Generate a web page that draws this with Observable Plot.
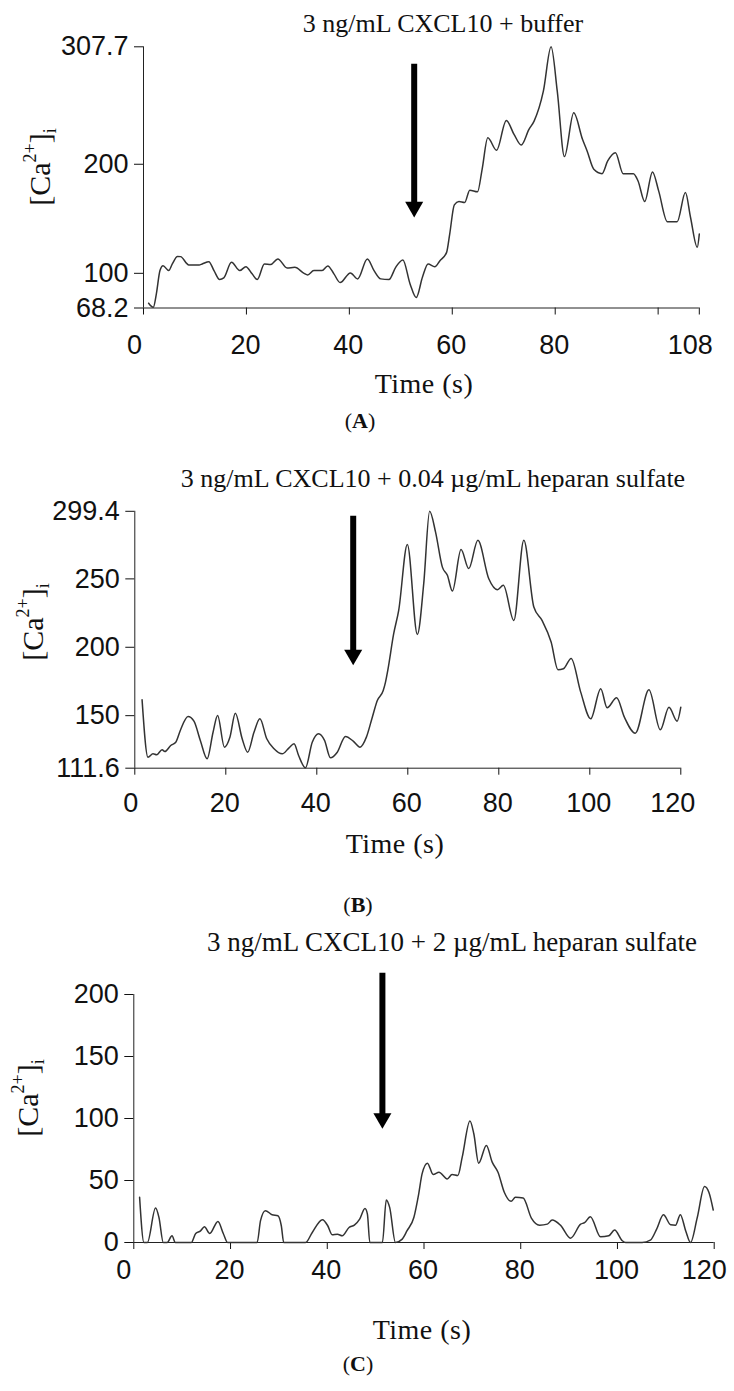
<!DOCTYPE html>
<html>
<head>
<meta charset="utf-8">
<script src="https://cdn.jsdelivr.net/npm/d3@7"></script>
<script src="https://cdn.jsdelivr.net/npm/@observablehq/plot@0.6"></script>
<style>
  body { margin: 0; background: #fff; }
  #fig { position: relative; width: 734px; height: 1391px; overflow: hidden;
         font-family: "Liberation Serif", "Times New Roman", serif; color: #111; }
  .t { position: absolute; white-space: nowrap; line-height: 1; transform: translateX(-50%); }
  .ylab { position: absolute; white-space: nowrap; line-height: 1; font-size: 30px;
          transform: translate(-50%, -50%) rotate(-90deg); }
  .ylab sup, .ylab sub { font-size: 0.6em; position: relative; vertical-align: baseline; line-height: 0; }
  .ylab sup { top: -0.8em; }
  .ylab sub { top: 0.35em; }
  svg { position: absolute; left: 0; }
</style>
</head>
<body>
<div id="fig"></div>
<script>
// Intracellular calcium traces, [Ca2+]i versus time (s)

// (A) 3 ng/mL CXCL10 + buffer
const timeA = [1.0,1.9,2.5,3.2,3.8,4.9,5.6,6.6,7.2,8.8,10.8,11.4,12.7,13.7,14.8,15.6,17.1,18.7,19.9,21.1,22.1,23.5,24.7,26.1,27.9,29.4,31.2,31.9,33.1,34.7,35.8,37.0,38.2,40.2,41.6,43.5,44.8,46.1,47.7,49.0,50.4,51.8,53.0,54.2,55.3,56.6,57.6,58.9,59.5,60.4,61.3,62.4,63.4,64.9,65.8,66.9,68.6,70.5,72.0,73.4,74.9,75.9,77.7,79.2,80.4,81.8,83.6,85.3,86.2,87.5,89.1,90.2,91.7,93.2,95.2,96.1,97.4,98.9,100.1,101.8,103.7,105.3,106.3,107.6,108];
const caA = [72.6,68.9,81.2,102.5,107.0,102.5,108.6,115.5,115.3,107.7,107.7,108.6,110.7,102.5,94.3,95.8,110.1,102.5,106.1,99.5,94.3,108.6,108.0,113.2,104.9,105.5,100.0,98.5,102.5,102.5,106.8,99.5,91.5,100.4,94.9,113.2,102.5,94.9,94.3,105.5,112.3,90.3,77.8,96.4,108.6,106.1,111.6,119.2,136.0,162.8,165.8,164.9,176.2,174.7,195.4,224.3,212.8,240.2,227.4,217.7,232.0,239.6,267.0,307.7,267.0,207.0,247.2,222.9,212.2,195.4,191.4,203.0,210.6,191.4,191.4,184.7,165.8,193.0,175.6,147.3,147.3,174.0,151.2,123.8,136.0];

// (B) 3 ng/mL CXCL10 + 0.04 µg/mL heparan sulfate
const timeB = [1.6,2.9,4.0,4.8,6.0,6.6,7.9,9.0,10.0,11.7,13.0,14.4,15.9,17.2,18.2,19.7,20.9,22.1,23.6,24.8,26.2,27.5,29.0,30.6,32.4,33.9,35.0,36.0,37.5,39.0,40.4,41.7,43.0,44.5,46.3,48.0,49.5,50.9,52.2,53.3,54.6,55.1,55.6,56.9,58.0,59.9,62.1,63.5,64.8,66.1,67.6,68.7,69.8,71.7,73.4,75.4,77.8,79.7,81.0,83.3,85.5,87.7,89.5,91.5,93.0,94.2,95.9,98.0,100.2,102.4,103.8,105.9,107.6,110.0,113.0,115.5,117.4,119.2,120];
const caB = [161.6,119.6,122.1,121.4,125.1,123.8,128.2,130.6,139.2,149.4,146.0,131.9,118.5,137.9,150.2,127.0,134.3,151.8,133.1,123.3,137.9,147.7,133.1,125.8,122.1,126.5,129.4,120.9,111.9,130.6,136.8,131.9,119.2,123.3,134.8,131.4,127.0,134.3,148.9,161.1,168.4,174.5,183.1,209.9,227.0,275.2,209.4,246.5,299.4,284.2,258.6,252.6,241.1,271.4,257.5,278.2,250.1,242.1,245.3,219.6,278.2,229.4,219.6,203.8,183.6,184.3,191.8,167.2,147.7,169.7,155.8,163.1,148.9,137.2,168.9,139.7,156.2,146.0,156.2];

// (C) 3 ng/mL CXCL10 + 2 µg/mL heparan sulfate
const timeC = [1.2,2.1,2.8,4.5,5.2,6.1,6.9,7.9,8.6,11.9,12.8,13.8,14.6,15.7,17.4,18.5,19.4,25.5,26.2,27.2,28.6,29.8,30.5,31.0,35.5,36.9,39.0,40.1,41.0,42.1,43.1,44.5,45.6,46.7,47.8,48.3,48.8,51.4,52.2,52.9,54.1,55.5,56.5,57.9,58.9,59.6,60.7,61.9,63.1,64.8,65.8,67.0,67.9,69.5,70.3,71.3,72.9,74.1,75.3,76.6,78.0,78.9,80.5,82.2,83.9,85.5,86.5,88.2,90.3,92.4,93.2,94.4,96.5,98.2,99.4,101.0,101.7,105.1,106.8,108.1,109.5,111.0,112.0,113.0,114.1,115.1,116.5,118.0,118.9,119.8];
const caC = [36.4,0,0,27.8,20.2,0,0,5.4,0,0,7.3,9.4,12.7,7.3,17.0,7.3,0,0,17.6,25.7,22.4,21.6,13.5,0,0,8.1,18.4,13.5,6.2,6.7,5.4,12.1,14.0,18.9,27.5,22.9,0,0,34.3,28.3,0,2.7,9.5,20.2,39.1,55.3,64.0,54.8,56.7,51.3,54.8,54.0,68.8,98.0,87.7,64.0,78.3,64.8,56.7,40.5,33.2,36.4,35.9,19.7,14.0,14.8,18.1,14.0,3.5,14.8,16.0,20.8,4.6,5.4,10.0,1.4,0,0,1.9,10.8,22.4,14.3,14.0,22.4,9.5,0,20.2,45.1,40.5,26.2];

// Axis domains and ticks
const xDomains = [[0, 108], [0, 120], [0, 120]];
const yDomains = [[68.2, 307.7], [111.6, 299.4], [0, 200]];
const xTicks = [[0, 20, 40, 60, 80, 100, 108], [0, 20, 40, 60, 80, 100, 120], [0, 20, 40, 60, 80, 100, 120]];
const xTickLabels = [["0", "20", "40", "60", "80", "", "108"], ["0", "20", "40", "60", "80", "100", "120"], ["0", "20", "40", "60", "80", "100", "120"]];
const yTicks = [[68.2, 100, 200, 307.7], [111.6, 150, 200, 250, 299.4], [0, 50, 100, 150, 200]];

// Stimulus arrows: time of addition, arrow top and arrow tip in [Ca2+]i units
const arrowTime = [52.6, 48.0, 51.4];
const arrowTop = [291.7, 295.7, 217.2];
const arrowTip = [151.2, 186.8, 91.7];

// Text
const titles = ["3 ng/mL CXCL10 + buffer",
                "3 ng/mL CXCL10 + 0.04 µg/mL heparan sulfate",
                "3 ng/mL CXCL10 + 2 µg/mL heparan sulfate"];
const letters = ["A", "B", "C"];
const xLabel = "Time (s)";

// Page layout for each panel; shiftX nudges the first and last time labels
const layout = [
  {top: 0,   height: 360, mt: 46.3, mb: 52.5, ml: 143,   mr: 35.2, padX: 20, shiftX: [-9, -9],
   title: {x: 443, y: 11}, xlab: {x: 424, y: 370}, ylab: {x: 40, y: 167}, cap: {x: 360, y: 410}, fs: 26},
  {top: 440, height: 380, mt: 70.8, mb: 52.3, ml: 134.3, mr: 53.7, padX: 18, shiftX: [-4, -8],
   title: {x: 433, y: 466}, xlab: {x: 395, y: 830}, ylab: {x: 33, y: 622}, cap: {x: 358, y: 894}, fs: 26},
  {top: 960, height: 330, mt: 34,   mb: 48,   ml: 133.3, mr: 20.3, padX: 10, shiftX: [-10, -10],
   title: {x: 452, y: 929}, xlab: {x: 422, y: 1316}, ylab: {x: 28, y: 1098}, cap: {x: 358, y: 1353}, fs: 27}
];

const series = [[timeA, caA], [timeB, caB], [timeC, caC]];
const fig = document.getElementById("fig");

function addText(cls, x, y, html, size) {
  const d = document.createElement("div");
  d.className = cls;
  d.style.left = x + "px";
  d.style.top = y + "px";
  if (size) d.style.fontSize = size + "px";
  d.innerHTML = html;
  fig.appendChild(d);
  return d;
}

series.forEach(([time, ca], i) => {
  const L = layout[i];
  const rows = time.map((t, j) => ({t, v: ca[j]}));
  const ticks = xTicks[i];
  const labels = xTickLabels[i];
  // one text mark per time label, so the end labels can be nudged
  const timeLabels = ticks.map((t, k) => Plot.text([t], {
    x: d => d, text: () => labels[k], frameAnchor: "bottom", lineAnchor: "top",
    dy: 7 + L.padX, dx: k === 0 ? L.shiftX[0] : k === ticks.length - 1 ? L.shiftX[1] : -1,
    fontSize: 27, fill: "#111"
  }));
  const svg = Plot.plot({
    width: 734,
    height: L.height,
    marginTop: L.mt,
    marginBottom: L.mb,
    marginLeft: L.ml,
    marginRight: L.mr,
    x: {domain: xDomains[i]},
    y: {domain: yDomains[i]},
    style: {fontFamily: '"Liberation Sans", Arial, sans-serif', fontSize: "27px", color: "#111",
            background: "transparent", overflow: "visible"},
    marks: [
      Plot.axisY({ticks: yTicks[i], tickSize: 9, tickPadding: 6, label: null, tickFormat: d => String(d)}),
      Plot.axisX({ticks, tickSize: 7, label: null, tickFormat: () => ""}),
      ...timeLabels,
      Plot.ruleX([xDomains[i][0]], {stroke: "#222"}),
      Plot.ruleY([yDomains[i][0]], {stroke: "#222"}),
      Plot.line(rows, {x: "t", y: "v", curve: "monotone-x", stroke: "#333", strokeWidth: 1.5}),
      Plot.ruleX([i], {x: k => arrowTime[k], y1: k => arrowTop[k], y2: k => arrowTip[k],
                       stroke: "#000", strokeWidth: 6, insetBottom: 12}),
      Plot.dot([i], {x: k => arrowTime[k], y: k => arrowTip[k], symbol: "triangle", rotate: 180,
                     r: 6.7, fill: "#000", stroke: null, dy: -10.4})
    ]
  });
  svg.style.top = L.top + "px";
  fig.appendChild(svg);

  addText("t", L.title.x, L.title.y, titles[i], L.fs);
  const xl = addText("t", L.xlab.x, L.xlab.y, xLabel, 28);
  xl.style.letterSpacing = "0.5px";
  addText("ylab", L.ylab.x, L.ylab.y, "[Ca<sup>2+</sup>]<sub>i</sub>");
  addText("t", L.cap.x, L.cap.y, "(<b>" + letters[i] + "</b>)", 22);
});
</script>
</body>
</html>
